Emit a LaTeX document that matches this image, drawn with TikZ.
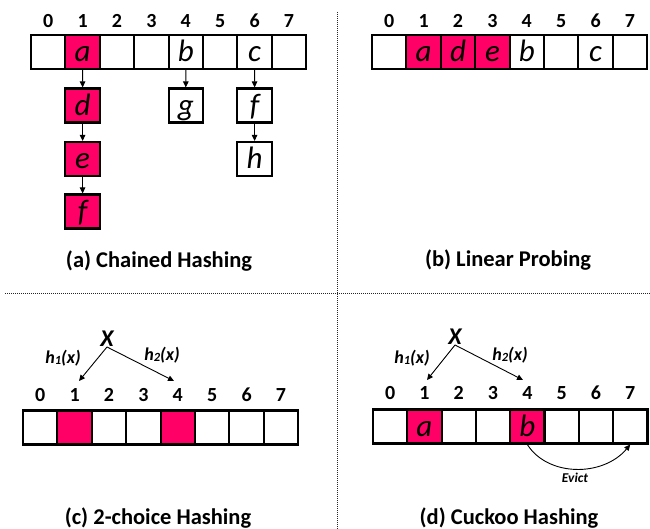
\documentclass[tikz,border=0pt]{standalone}
\usepackage{fontspec}
\setmainfont{Carlito}
\usetikzlibrary{arrows.meta}
\definecolor{hot}{RGB}{255,0,102}
\begin{document}
\begin{tikzpicture}[x=1pt,y=-1pt,
  cell/.style={draw,line width=2.1pt,minimum width=34.4pt,minimum height=34pt,inner sep=0pt,
    text height=27pt,text depth=7pt,font=\fontsize{31}{33}\selectfont\itshape},
  hotcell/.style={cell,fill=hot},
  idx/.style={font=\fontsize{20}{22}\selectfont\bfseries,inner sep=0pt},
  captext/.style={font=\fontsize{22.5}{25}\selectfont\bfseries,inner sep=0pt},
  arr/.style={-{Triangle[length=6pt,width=5.5pt]},line width=0.9pt},
  hx/.style={font=\fontsize{18}{20}\selectfont\bfseries\itshape,inner sep=0pt},
  bigx/.style={font=\fontsize{24}{26}\selectfont\bfseries\itshape,inner sep=0pt},
  evl/.style={font=\fontsize{13.5}{15}\selectfont\bfseries\itshape,inner sep=0pt},
  sepline/.style={densely dotted,line width=1pt,draw=black!85}]
\useasboundingbox (0,0) rectangle (650,529);

% separators
\coordinate (vt) at (337,12);
\coordinate (vb) at (337,529);
\coordinate (hl) at (5,293);
\coordinate (hr) at (650,293);
\draw[sepline] (vt) -- (vb);
\draw[sepline] (hl) -- (hr);

% ---------- (a) Chained hashing ----------
\foreach \i/\t/\s in {0//cell,1/a/hotcell,2//cell,3//cell,4/b/cell,5//cell,6/c/cell,7//cell}{
  \node[\s] (A\i) at ({31+34.4*(\i+0.5)},52) {\t};
  \node[idx] (Ai\i) at ({31+34.4*(\i+0.5)},21) {\i};
}
\node[hotcell] (Ad) at (82.6,105.5) {d};
\node[hotcell] (Ae) at (82.6,159) {e};
\node[hotcell] (Af) at (82.6,211.5) {f};
\node[cell] (Ag) at (185.8,105.5) {g};
\node[cell] (Af2) at (254.6,105.5) {f};
\node[cell] (Ah) at (254.6,159) {h};
\draw[arr] (A1) -- (Ad);
\draw[arr] (Ad) -- (Ae);
\draw[arr] (Ae) -- (Af);
\draw[arr] (A4) -- (Ag);
\draw[arr] (A6) -- (Af2);
\draw[arr] (Af2) -- (Ah);
\node[captext] (capa) at (159,261) {(a) Chained Hashing};

% ---------- (b) Linear probing ----------
\foreach \i/\t/\s in {0//cell,1/a/hotcell,2/d/hotcell,3/e/hotcell,4/b/cell,5//cell,6/c/cell,7//cell}{
  \node[\s] (B\i) at ({372+34.4*(\i+0.5)},52) {\t};
  \node[idx] (Bi\i) at ({372+34.4*(\i+0.5)},21) {\i};
}
\node[captext] (capb) at (508,260) {(b) Linear Probing};

% ---------- (c) 2-choice hashing ----------
\foreach \i/\s in {0/cell,1/hotcell,2/cell,3/cell,4/hotcell,5/cell,6/cell,7/cell}{
  \node[\s] (C\i) at ({23+34.4*(\i+0.5)},427.5) {};
  \node[idx] (Ci\i) at ({23+34.4*(\i+0.5)},395) {\i};
}
\node[bigx] (xc) at (107,339) {X};
\coordinate (c1a) at (79,381);
\coordinate (c4a) at (174,381);
\draw[arr] (xc.south) -- (c1a);
\draw[arr] (xc.south) -- (c4a);
\node[hx] (h1c) at (63,358) {h\raisebox{-1.5pt}{\fontsize{12.5}{13}\selectfont 1}(x)};
\node[hx] (h2c) at (162,355) {h\raisebox{-1.5pt}{\fontsize{12.5}{13}\selectfont 2}(x)};
\node[captext] (capc) at (158,518) {(c) 2-choice Hashing};

% ---------- (d) Cuckoo hashing ----------
\foreach \i/\t/\s in {0//cell,1/a/hotcell,2//cell,3//cell,4/b/hotcell,5//cell,6//cell,7//cell}{
  \node[\s] (D\i) at ({373+34.3*(\i+0.5)},426.5) {\t};
  \node[idx] (Di\i) at ({373+34.3*(\i+0.5)},393) {\i};
}
\node[bigx] (xd) at (455,337) {X};
\coordinate (d1a) at (427,380);
\coordinate (d4a) at (523,380);
\draw[arr] (xd.south) -- (d1a);
\draw[arr] (xd.south) -- (d4a);
\node[hx] (h1d) at (412,358) {h\raisebox{-1.5pt}{\fontsize{12.5}{13}\selectfont 1}(x)};
\node[hx] (h2d) at (510,355) {h\raisebox{-1.5pt}{\fontsize{12.5}{13}\selectfont 2}(x)};
\draw[arr] (D4.south) .. controls (548,477) and (603,477) .. (D7.south);
\node[evl] (ev) at (575,478) {Evict};
\node[captext] (capd) at (509,518) {(d) Cuckoo Hashing};
\end{tikzpicture}
\end{document}
